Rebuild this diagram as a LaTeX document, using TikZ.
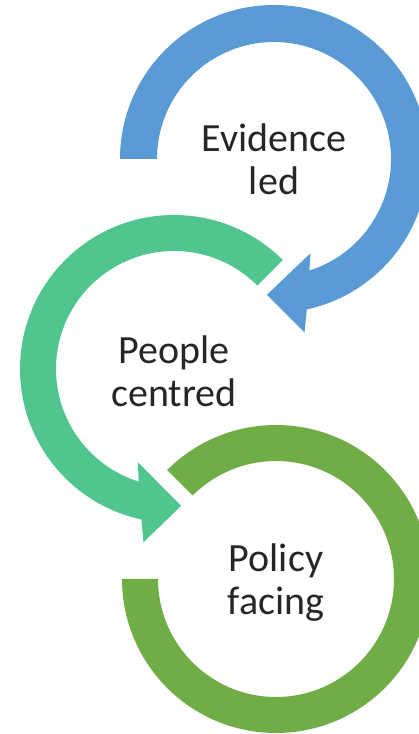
\documentclass[tikz,border=0pt]{standalone}
\usepackage{fontspec}
\setmainfont{Carlito}
\usetikzlibrary{calc}
\definecolor{evblue}{HTML}{5B9BD5}
\definecolor{pegreen}{HTML}{50C58E}
\definecolor{pogreen}{HTML}{70AD47}
\begin{document}
\begin{tikzpicture}[x=1pt,y=1pt]
\tikzstyle{every node}=[]
\tikzstyle{stage}=[align=center, inner sep=0pt, text=black!85, font=\fontsize{40}{43}\selectfont]

\useasboundingbox (0,0) rectangle (419,734);
\clip (0,0) rectangle (419,734);

\coordinate (EC) at (274,575);
\coordinate (PC) at (174,365);
\coordinate (FC) at (276,155);

\fill[evblue] ($(EC)+(180:154)$) arc[start angle=180, end angle=-77.7, radius=154]
  -- ($(EC)+(-80:176)$) -- ($(EC)+(-93:136)$) -- ($(EC)+(-68.8:101)$)
  -- ($(EC)+(-72.4:117)$) arc[start angle=-72.4, end angle=180, radius=117] -- cycle;
\fill[pegreen] ($(PC)+(45:154)$) arc[start angle=45, end angle=257.8, radius=154]
  -- ($(PC)+(260:176)$) -- ($(PC)+(273:137)$) -- ($(PC)+(248.8:100)$)
  -- ($(PC)+(252.6:118)$) arc[start angle=252.6, end angle=45, radius=118] -- cycle;
\fill[pogreen] ($(FC)+(135:154)$) arc[start angle=135, end angle=-180, radius=154]
  -- ($(FC)+(180:118)$) arc[start angle=-180, end angle=135, radius=118] -- cycle;

\node[stage] (evidence) at (EC) {Evidence\\led};
\node[stage] (people) at ($(PC)+(0,-2)$) {People\\centred};
\node[stage] (policy) at ($(FC)+(0,-4)$) {Policy\\facing};

\end{tikzpicture}
\end{document}
